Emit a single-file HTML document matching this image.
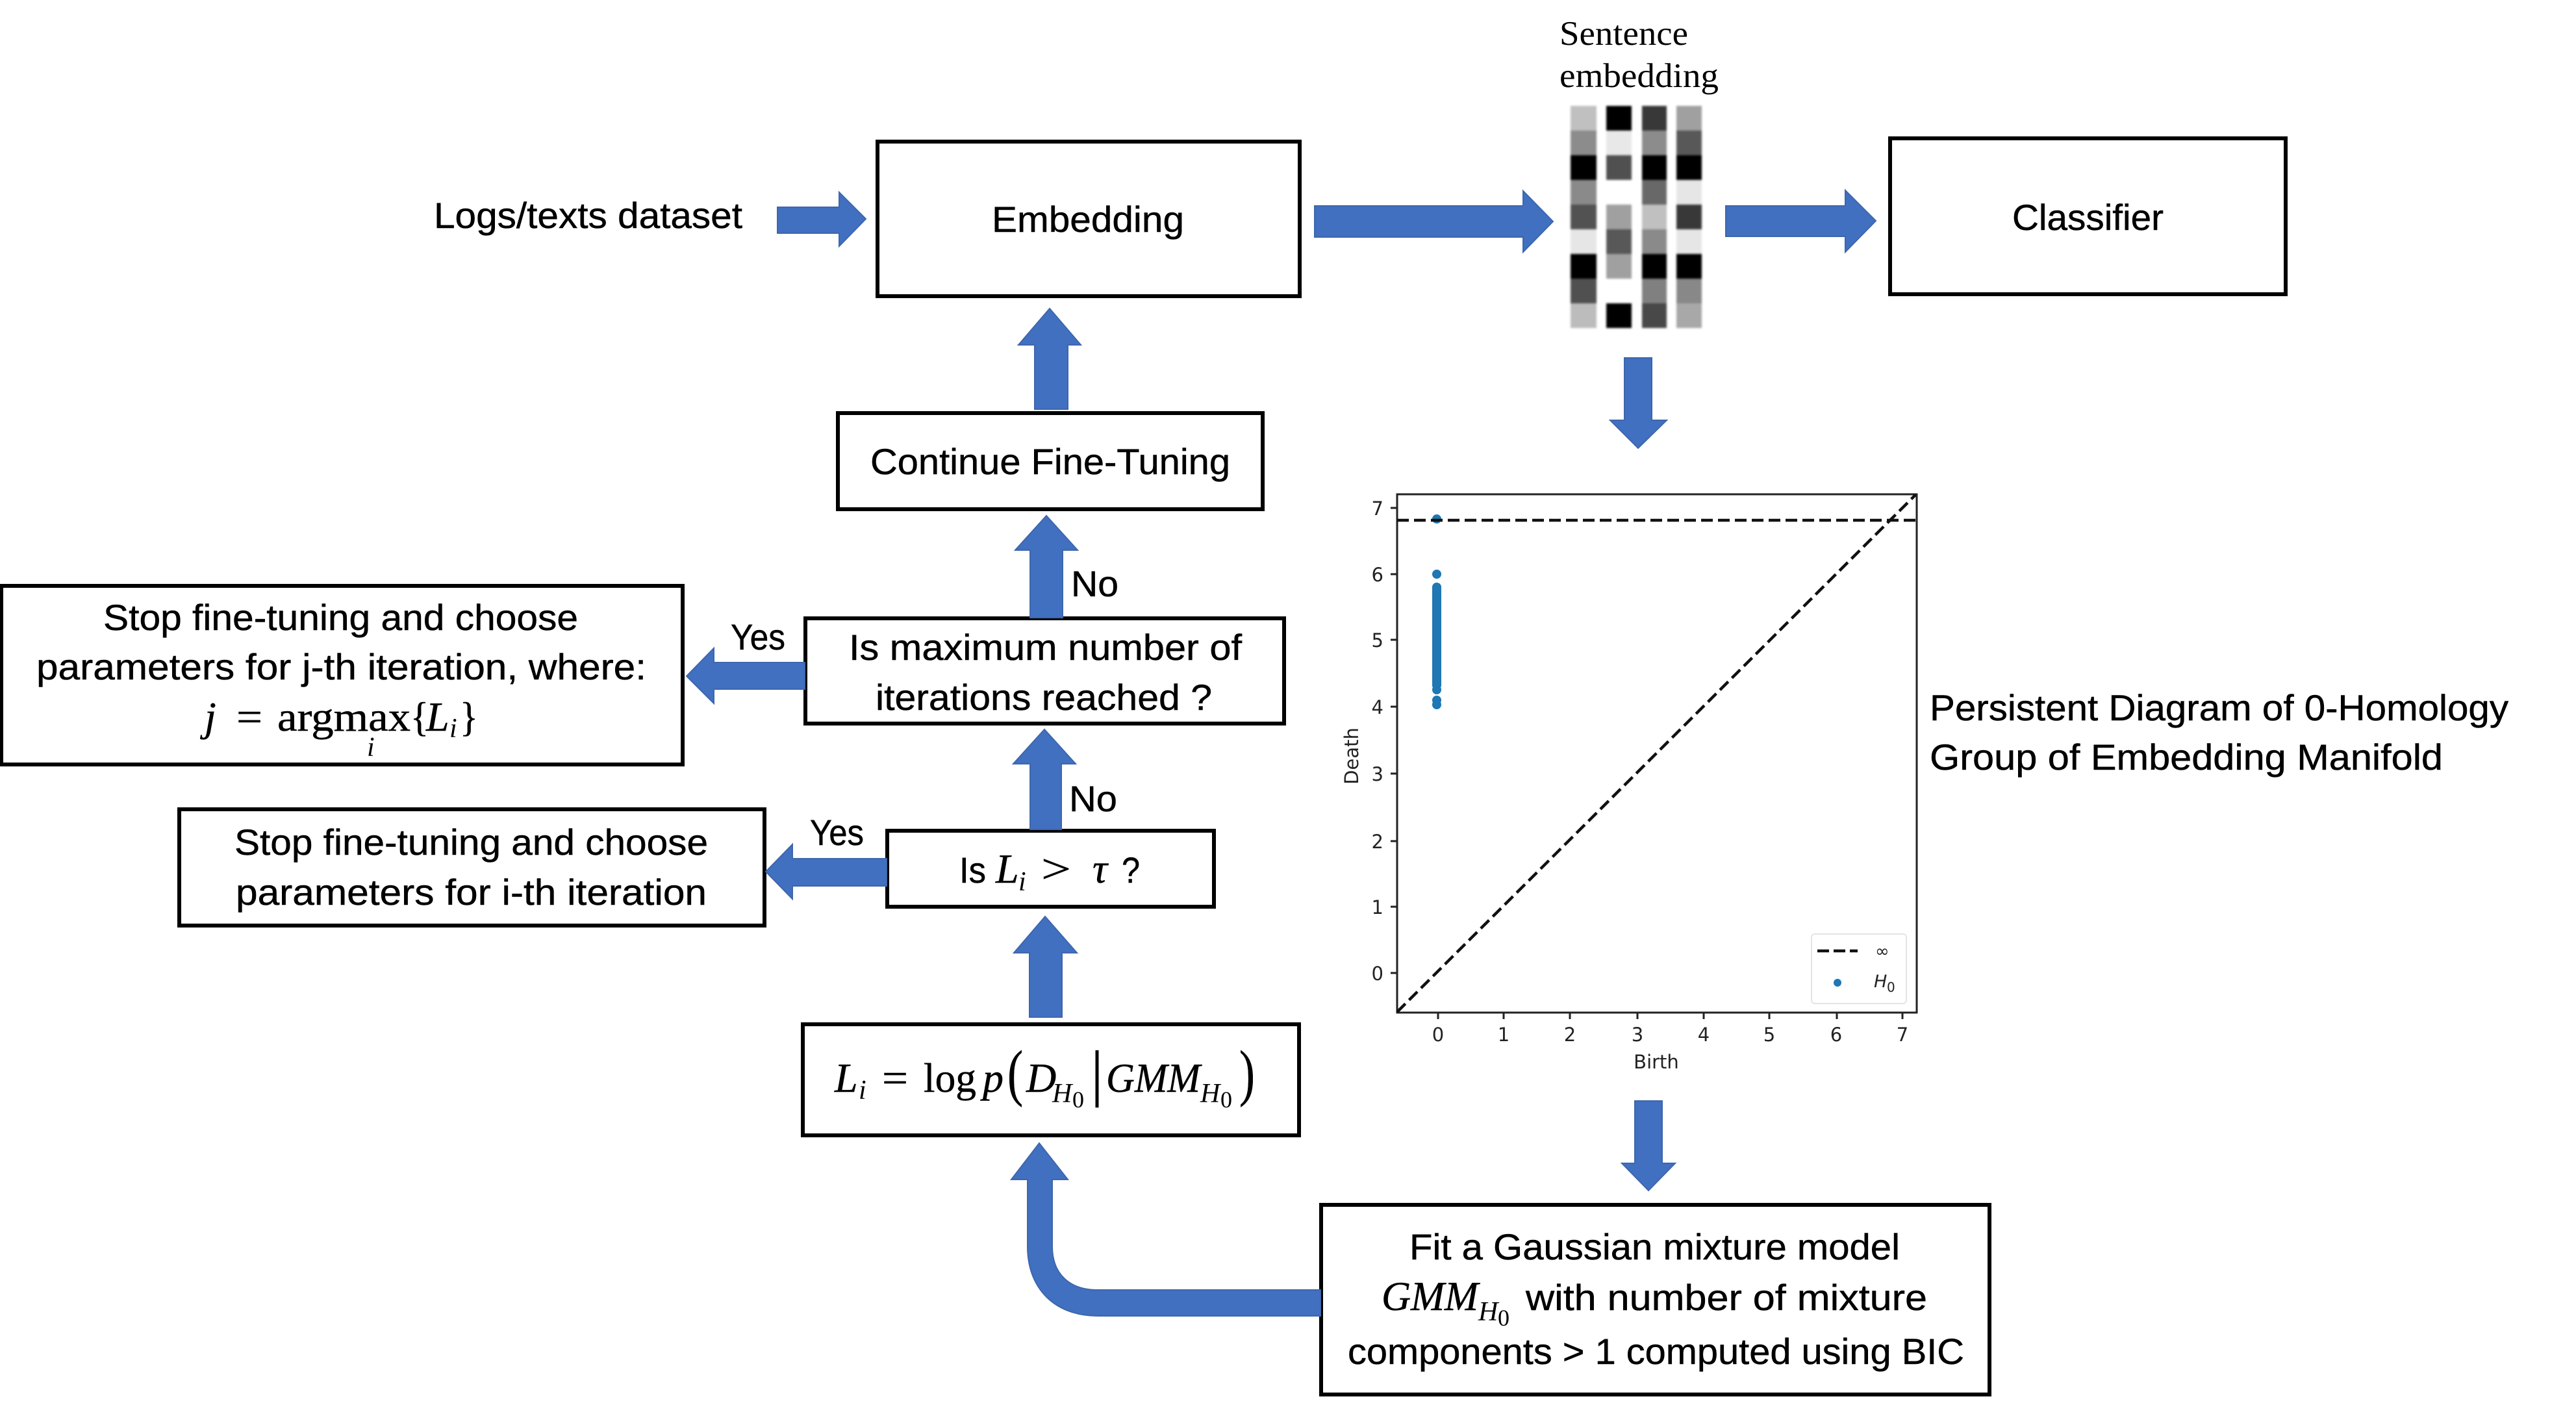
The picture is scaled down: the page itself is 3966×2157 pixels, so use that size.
<!DOCTYPE html>
<html><head><meta charset="utf-8"><style>
html,body{margin:0;padding:0;background:#fff}
svg{display:block}
.s{font-family:"Liberation Sans",sans-serif;font-size:56px;fill:#000;stroke:#000;stroke-width:.5}
.m{font-family:"Liberation Serif",serif;font-style:italic;font-size:64px;fill:#000;stroke:#000;stroke-width:.5}
.r{font-family:"Liberation Serif",serif;font-size:64px;fill:#000;stroke:#000;stroke-width:.5}
.ms{font-family:"Liberation Serif",serif;font-style:italic;font-size:42px;fill:#000}
.mr{font-family:"Liberation Serif",serif;font-size:36px;fill:#000}
.t{font-family:"DejaVu Sans",sans-serif;font-size:29px;fill:#222}
.b{fill:#fff;stroke:#000;stroke-width:6}
.a{fill:#4270c0;stroke:#3d66ad;stroke-width:2}
</style></head><body>
<svg width="3966" height="2157" viewBox="0 0 3966 2157" xmlns="http://www.w3.org/2000/svg">
<rect width="3966" height="2157" fill="#fff"/>

<!-- boxes -->
<rect class="b" x="1351" y="218" width="650" height="238"/>
<rect class="b" x="2910" y="213" width="609" height="240"/>
<rect class="b" x="1290" y="636" width="654" height="148"/>
<rect class="b" x="1240" y="952" width="737" height="162"/>
<rect class="b" x="2" y="902" width="1049" height="275"/>
<rect class="b" x="276" y="1246" width="901" height="179"/>
<rect class="b" x="1366" y="1279" width="503" height="117"/>
<rect class="b" x="1236" y="1577" width="764" height="171"/>
<rect class="b" x="2034" y="1855" width="1029" height="292"/>

<!-- arrows -->
<path class="a" d="M1197 319H1292V296L1333 337L1292 379V359H1197Z"/>
<path class="a" d="M2024 317H2345V294L2391 341L2345 388V365H2024Z"/>
<path class="a" d="M2657 317H2841V293L2888 340L2841 388V364H2657Z"/>
<path class="a" d="M2501 551H2543V647H2566L2522 690L2479 647H2501Z"/>
<path class="a" d="M2517 1695H2559V1791H2579L2538 1833L2497 1791H2517Z"/>
<path class="a" d="M1593 630V531H1568L1616 475L1664 531H1644V630Z"/>
<path class="a" d="M1586 951V847H1563L1611 794L1659 847H1636V951Z"/>
<path class="a" d="M1586 1277V1176H1560L1608 1123L1656 1176H1634V1277Z"/>
<path class="a" d="M1585 1566V1467H1561L1609 1411L1658 1467H1635V1566Z"/>
<path class="a" d="M1239 1020H1099V998L1057 1041L1099 1083V1061H1239Z"/>
<path class="a" d="M1365 1322H1220V1300L1179 1342L1220 1384V1364H1365Z"/>
<path class="a" d="M2033 1986H1690C1645 1986 1620 1960 1620 1919V1816H1644L1600 1760L1557 1816H1582V1919C1582 1985 1625 2026 1690 2026H2033Z"/>

<!-- text: main -->
<text class="s" x="668" y="351" textLength="475" lengthAdjust="spacingAndGlyphs">Logs/texts dataset</text>
<text class="s" x="1527" y="357" textLength="296" lengthAdjust="spacingAndGlyphs">Embedding</text>
<text class="s" x="3098" y="354" textLength="233" lengthAdjust="spacingAndGlyphs">Classifier</text>
<text class="s" x="1340" y="730" textLength="554" lengthAdjust="spacingAndGlyphs">Continue Fine-Tuning</text>
<text class="s" x="1649" y="918" textLength="73" lengthAdjust="spacingAndGlyphs">No</text>
<text class="s" x="1307" y="1016" textLength="605" lengthAdjust="spacingAndGlyphs">Is maximum number of</text>
<text class="s" x="1348" y="1093" textLength="518" lengthAdjust="spacingAndGlyphs">iterations reached ?</text>
<text class="s" x="1125" y="1000" textLength="84" lengthAdjust="spacingAndGlyphs">Yes</text>
<text class="s" x="159" y="970" textLength="731" lengthAdjust="spacingAndGlyphs">Stop fine-tuning and choose</text>
<text class="s" x="56" y="1046" textLength="939" lengthAdjust="spacingAndGlyphs">parameters for j-th iteration, where:</text>
<text class="m" x="315" y="1125">j</text>
<text class="r" x="364" y="1125" textLength="40" lengthAdjust="spacingAndGlyphs">=</text>
<text class="r" x="427" y="1125" textLength="205" lengthAdjust="spacingAndGlyphs">argmax</text>
<text class="r" x="632" y="1125" textLength="28" lengthAdjust="spacingAndGlyphs">{</text>
<text class="m" x="656" y="1125">L</text>
<text class="ms" x="692" y="1135">i</text>
<text class="r" x="708" y="1125" textLength="28" lengthAdjust="spacingAndGlyphs">}</text>
<text class="ms" x="565" y="1164">i</text>
<text class="s" x="1247" y="1301" textLength="83" lengthAdjust="spacingAndGlyphs">Yes</text>
<text class="s" x="1646" y="1249" textLength="74" lengthAdjust="spacingAndGlyphs">No</text>
<text class="s" x="361" y="1316" textLength="729" lengthAdjust="spacingAndGlyphs">Stop fine-tuning and choose</text>
<text class="s" x="363" y="1393" textLength="725" lengthAdjust="spacingAndGlyphs">parameters for i-th iteration</text>
<text class="s" x="1477" y="1359" textLength="41" lengthAdjust="spacingAndGlyphs">Is</text>
<text class="m" x="1533" y="1359">L</text>
<text class="ms" x="1568" y="1371">i</text>
<text class="r" x="1603" y="1359" textLength="46" lengthAdjust="spacingAndGlyphs">&gt;</text>
<text class="m" x="1682" y="1359">τ</text>
<text class="s" x="1727" y="1359" textLength="28" lengthAdjust="spacingAndGlyphs">?</text>

<!-- formula -->
<text class="m" x="1285" y="1681">L</text>
<text class="ms" x="1322" y="1692">i</text>
<text class="r" x="1358" y="1681" textLength="40" lengthAdjust="spacingAndGlyphs">=</text>
<text class="r" x="1422" y="1681" textLength="81" lengthAdjust="spacingAndGlyphs">log</text>
<text class="m" x="1513" y="1681">p</text>
<text class="r" x="1551" y="1684" style="font-size:96px" textLength="24" lengthAdjust="spacingAndGlyphs">(</text>
<text class="m" x="1580" y="1681">D</text>
<text class="ms" x="1620" y="1697">H</text>
<text class="mr" x="1651" y="1705">0</text>
<text class="r" x="1680" y="1684" style="font-size:96px" textLength="18" lengthAdjust="spacingAndGlyphs">|</text>
<text class="m" x="1703" y="1681" textLength="145" lengthAdjust="spacingAndGlyphs">GMM</text>
<text class="ms" x="1848" y="1697">H</text>
<text class="mr" x="1879" y="1705">0</text>
<text class="r" x="1908" y="1684" style="font-size:96px" textLength="24" lengthAdjust="spacingAndGlyphs">)</text>

<!-- GMM box text -->
<text class="s" x="2170" y="1939" textLength="755" lengthAdjust="spacingAndGlyphs">Fit a Gaussian mixture model</text>
<text class="m" x="2127" y="2017" textLength="149" lengthAdjust="spacingAndGlyphs">GMM</text>
<text class="ms" x="2276" y="2033">H</text>
<text class="mr" x="2306" y="2041">0</text>
<text class="s" x="2349" y="2017" textLength="618" lengthAdjust="spacingAndGlyphs">with number of mixture</text>
<text class="s" x="2075" y="2100" textLength="949" lengthAdjust="spacingAndGlyphs">components &gt; 1 computed using BIC</text>

<!-- sentence / persistent -->
<text x="2401" y="69" font-family="Liberation Serif, serif" font-size="53" textLength="198" lengthAdjust="spacingAndGlyphs">Sentence</text>
<text x="2401" y="134" font-family="Liberation Serif, serif" font-size="53" textLength="245" lengthAdjust="spacingAndGlyphs">embedding</text>
<text class="s" x="2971" y="1109" textLength="891" lengthAdjust="spacingAndGlyphs">Persistent Diagram of 0-Homology</text>
<text class="s" x="2971" y="1185" textLength="790" lengthAdjust="spacingAndGlyphs">Group of Embedding Manifold</text>

<!-- embedding matrix -->
<g style="filter:blur(1.5px)">
<g>
<rect x="2418" y="163" width="40" height="38" fill="#c0c0c0"/><rect x="2418" y="201" width="40" height="38" fill="#8c8c8c"/><rect x="2418" y="239" width="40" height="38" fill="#000"/><rect x="2418" y="277" width="40" height="38" fill="#8a8a8a"/><rect x="2418" y="315" width="40" height="38" fill="#525252"/><rect x="2418" y="353" width="40" height="38" fill="#e6e6e6"/><rect x="2418" y="391" width="40" height="38" fill="#000"/><rect x="2418" y="429" width="40" height="38" fill="#505050"/><rect x="2418" y="467" width="40" height="38" fill="#bcbcbc"/>
</g>
<g>
<rect x="2473" y="163" width="39" height="38" fill="#000"/><rect x="2473" y="201" width="39" height="38" fill="#e8e8e8"/><rect x="2473" y="239" width="39" height="38" fill="#505050"/><rect x="2473" y="277" width="39" height="38" fill="#fff"/><rect x="2473" y="315" width="39" height="38" fill="#a0a0a0"/><rect x="2473" y="353" width="39" height="38" fill="#585858"/><rect x="2473" y="391" width="39" height="38" fill="#a0a0a0"/><rect x="2473" y="429" width="39" height="38" fill="#fff"/><rect x="2473" y="467" width="39" height="38" fill="#000"/>
</g>
<g>
<rect x="2528" y="163" width="38" height="38" fill="#383838"/><rect x="2528" y="201" width="38" height="38" fill="#8c8c8c"/><rect x="2528" y="239" width="38" height="38" fill="#000"/><rect x="2528" y="277" width="38" height="38" fill="#686868"/><rect x="2528" y="315" width="38" height="38" fill="#c0c0c0"/><rect x="2528" y="353" width="38" height="38" fill="#8a8a8a"/><rect x="2528" y="391" width="38" height="38" fill="#000"/><rect x="2528" y="429" width="38" height="38" fill="#808080"/><rect x="2528" y="467" width="38" height="38" fill="#484848"/>
</g>
<g>
<rect x="2581" y="163" width="39" height="38" fill="#a0a0a0"/><rect x="2581" y="201" width="39" height="38" fill="#585858"/><rect x="2581" y="239" width="39" height="38" fill="#000"/><rect x="2581" y="277" width="39" height="38" fill="#e6e6e6"/><rect x="2581" y="315" width="39" height="38" fill="#383838"/><rect x="2581" y="353" width="39" height="38" fill="#e6e6e6"/><rect x="2581" y="391" width="39" height="38" fill="#000"/><rect x="2581" y="429" width="39" height="38" fill="#888888"/><rect x="2581" y="467" width="39" height="38" fill="#a8a8a8"/>
</g>
</g>

<!-- plot -->
<g stroke="#222" stroke-width="3" fill="none">
<rect x="2151" y="761" width="800" height="798"/>
<path d="M2214 1559v10M2315 1559v10M2417 1559v10M2521 1559v10M2623 1559v10M2724 1559v10M2828 1559v10M2929 1559v10"/>
<path d="M2151 782h-10M2151 884h-10M2151 985h-10M2151 1088h-10M2151 1191h-10M2151 1295h-10M2151 1396h-10M2151 1498h-10"/>
</g>
<g fill="#1f77b4">
<circle cx="2212" cy="799" r="7"/>
<circle cx="2212" cy="884" r="7"/>
<rect x="2205" y="897" width="14" height="165" rx="7"/>
<circle cx="2212" cy="1062" r="7"/>
<circle cx="2212" cy="1078" r="7"/>
<circle cx="2212" cy="1085" r="7"/>
</g>
<g stroke="#111" fill="none" stroke-width="4.5" stroke-dasharray="18 8">
<path d="M2151 801H2951"/>
<path d="M2151 1558L2949 762"/>
</g>
<rect x="2789" y="1438" width="146" height="107" rx="5" fill="#fff" fill-opacity=".9" stroke="#e4e4e4" stroke-width="2"/>
<path d="M2798 1464H2860" stroke="#111" stroke-width="4.5" stroke-dasharray="18 7" fill="none"/>
<circle cx="2829" cy="1513" r="6" fill="#1f77b4"/>
<text class="t" x="2887" y="1473" style="font-size:26px">∞</text>
<text class="t" x="2885" y="1520" style="font-size:27px;font-style:italic">H</text>
<text class="t" x="2905" y="1527" style="font-size:20px">0</text>

<g text-anchor="middle">
<text class="t" x="2214" y="1603">0</text><text class="t" x="2315" y="1603">1</text><text class="t" x="2417" y="1603">2</text><text class="t" x="2521" y="1603">3</text><text class="t" x="2623" y="1603">4</text><text class="t" x="2724" y="1603">5</text><text class="t" x="2827" y="1603">6</text><text class="t" x="2929" y="1603">7</text>
<text class="t" x="2550" y="1645">Birth</text>
<text class="t" transform="translate(2091 1164) rotate(-90)">Death</text>
</g>
<g text-anchor="end">
<text class="t" x="2130" y="793">7</text><text class="t" x="2130" y="895">6</text><text class="t" x="2130" y="996">5</text><text class="t" x="2130" y="1099">4</text><text class="t" x="2130" y="1202">3</text><text class="t" x="2130" y="1306">2</text><text class="t" x="2130" y="1407">1</text><text class="t" x="2130" y="1509">0</text>
</g>
</svg>
</body></html>
